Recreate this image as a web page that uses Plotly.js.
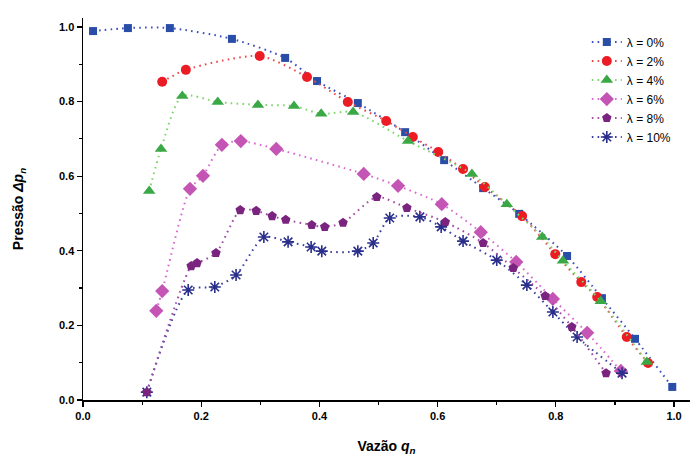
<!DOCTYPE html>
<html><head><meta charset="utf-8">
<script src="https://cdn.plot.ly/plotly-3.0.1.min.js"></script>
<style>html,body{margin:0;padding:0;background:#fff}#chart{width:690px;height:463px}</style>
</head><body><div id="chart"></div>
<script>
const seriesNames = ["λ = 0%", "λ = 2%", "λ = 4%", "λ = 6%", "λ = 8%", "λ = 10%"];

const x0 = [0.017,0.076,0.147,0.252,0.342,0.396,0.465,0.545,0.611,0.677,0.738,0.819,0.878,0.934,0.997];
const y0 = [0.989,0.997,0.997,0.968,0.917,0.855,0.796,0.718,0.643,0.568,0.499,0.386,0.273,0.164,0.035];

const x2 = [0.134,0.174,0.299,0.379,0.448,0.513,0.558,0.601,0.643,0.680,0.743,0.799,0.843,0.870,0.920,0.956];
const y2 = [0.853,0.885,0.922,0.866,0.799,0.748,0.705,0.665,0.619,0.571,0.493,0.391,0.316,0.276,0.169,0.099];

const x4 = [0.112,0.132,0.168,0.228,0.296,0.357,0.403,0.457,0.550,0.658,0.717,0.777,0.812,0.876,0.954];
const y4 = [0.560,0.673,0.815,0.799,0.791,0.788,0.767,0.772,0.694,0.606,0.525,0.437,0.373,0.265,0.102];

const x6 = [0.124,0.134,0.181,0.203,0.235,0.267,0.327,0.475,0.533,0.607,0.673,0.733,0.795,0.853,0.910];
const y6 = [0.239,0.292,0.566,0.601,0.684,0.694,0.673,0.606,0.574,0.525,0.450,0.370,0.271,0.180,0.078];

const x8 = [0.108,0.183,0.193,0.225,0.266,0.293,0.320,0.343,0.387,0.409,0.440,0.497,0.548,0.613,0.677,0.728,0.782,0.827,0.885];
const y8 = [0.021,0.359,0.367,0.394,0.509,0.507,0.493,0.483,0.469,0.464,0.475,0.544,0.515,0.477,0.421,0.354,0.279,0.196,0.072];

const x10 = [0.108,0.178,0.223,0.259,0.306,0.347,0.386,0.404,0.465,0.491,0.519,0.570,0.606,0.643,0.700,0.751,0.795,0.836,0.912];
const y10 = [0.021,0.295,0.303,0.335,0.437,0.424,0.410,0.399,0.399,0.421,0.488,0.491,0.464,0.426,0.375,0.308,0.236,0.169,0.072];

const xTickVals = [0, 0.2, 0.4, 0.6, 0.8, 1.0];
const xTickText = ["0.0", "0.2", "0.4", "0.6", "0.8", "1.0"];
const yTickVals = [0, 0.2, 0.4, 0.6, 0.8, 1.0];
const yTickText = ["0.0", "0.2", "0.4", "0.6", "0.8", "1.0"];

function tr(x, y, name, lineColor, mColor, symbol, size, rank, extra) {
  return {
    x: x, y: y, name: name, type: 'scatter', mode: 'lines+markers',
    line: {color: lineColor, width: 2, dash: '1.6px,4.2px', shape: 'spline', smoothing: 0.7},
    marker: Object.assign({color: mColor, symbol: symbol, size: size, line: {width: 0}}, extra || {}),
    legendrank: rank
  };
}

const data = [
  tr(x0, y0, seriesNames[0], '#3b4fc0', '#2a4ea8', 'square', 8, 1),
  tr(x2, y2, seriesNames[1], '#ec4a4a', '#ec1c24', 'circle', 10, 2),
  tr(x4, y4, seriesNames[2], '#7ed66a', '#3aa845', 'triangle-up', 11, 3),
  tr(x6, y6, seriesNames[3], '#d968d0', '#c455b5', 'diamond', 11, 4),
  tr(x10, y10, seriesNames[5], '#3a3f9c', '#2a2f8c', 'asterisk-open', 10, 6, {line: {width: 1.6, color: '#2a2f8c'}}),
  tr(x8, y8, seriesNames[4], '#a04aa4', '#7a2480', 'pentagon', 10, 5)
];

const axFont = {family: 'Liberation Sans, Arial, sans-serif', size: 11, color: '#000', weight: 'bold'};

const layout = {
  width: 690, height: 463,
  margin: {l: 83, r: 0, t: 18, b: 63},
  paper_bgcolor: '#fff', plot_bgcolor: '#fff',
  font: {family: 'Liberation Sans, Arial, sans-serif', color: '#000'},
  showlegend: true,
  legend: {
    x: 0.83, y: 0.975, xanchor: 'left', yanchor: 'top',
    bgcolor: 'rgba(0,0,0,0)', borderwidth: 0,
    font: {family: 'Liberation Sans, Arial, sans-serif', size: 12, color: '#000'},
    tracegroupgap: 0
  },
  xaxis: {
    range: [0, 1.027], showgrid: false, zeroline: false,
    showline: true, linecolor: '#000', linewidth: 1.5,
    ticks: 'outside', ticklen: 5, tickwidth: 1.2, tickcolor: '#000',
    tickvals: xTickVals, ticktext: xTickText, tickfont: axFont,
    minor: {dtick: 0.1, ticks: 'outside', ticklen: 3, tickwidth: 1.2, tickcolor: '#000', showgrid: false},
    title: {text: '<b>Vazão <i>q</i><sub><i>n</i></sub></b>', font: {size: 14, family: 'Liberation Sans, Arial, sans-serif', color: '#000'}, standoff: 20}
  },
  yaxis: {
    range: [0, 1.024], showgrid: false, zeroline: false,
    showline: true, linecolor: '#000', linewidth: 1.5,
    ticks: 'outside', ticklen: 5, tickwidth: 1.2, tickcolor: '#000',
    tickvals: yTickVals, ticktext: yTickText, tickfont: axFont,
    minor: {dtick: 0.1, ticks: 'outside', ticklen: 3, tickwidth: 1.2, tickcolor: '#000', showgrid: false},
    title: {text: '<b>Pressão <i>Δp</i><sub><i>n</i></sub></b>', font: {size: 14, family: 'Liberation Sans, Arial, sans-serif', color: '#000'}, standoff: 32}
  }
};

Plotly.newPlot('chart', data, layout, {displayModeBar: false, staticPlot: true});
</script></body></html>
